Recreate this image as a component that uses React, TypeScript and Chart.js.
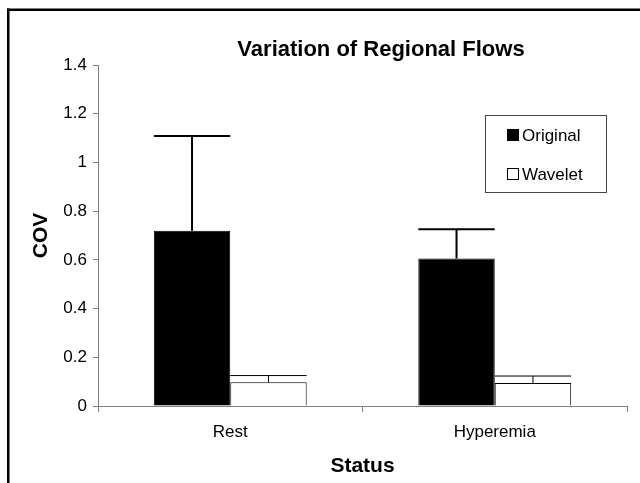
import React, { useEffect, useRef } from "react";
import { Chart, registerables } from "chart.js";

Chart.register(...registerables);

const categories = ["Rest", "Hyperemia"];
const seriesNames = ["Original", "Wavelet"];
const originalValues = [0.72, 0.606];
const originalErrors = [0.388, 0.12];
const waveletValues = [0.097, 0.094];
const waveletErrors = [0.028, 0.029];
const yTicks = [0, 0.2, 0.4, 0.6, 0.8, 1, 1.2, 1.4];
const titleText = "Variation of Regional Flows";
const yTitle = "COV";
const xTitle = "Status";

const FONT = "'Liberation Sans', Arial, sans-serif";

const errorBarPlugin = {
  id: "errorBars",
  afterDatasetsDraw(chart: any) {
    const ctx = chart.ctx;
    const yScale = chart.scales.y;
    chart.data.datasets.forEach((ds: any, i: number) => {
      const meta = chart.getDatasetMeta(i);
      const errs: number[] = ds.errors || [];
      meta.data.forEach((bar: any, j: number) => {
        const v = ds.data[j] + errs[j];
        const yTop = yScale.getPixelForValue(v);
        const half = bar.width / 2;
        ctx.save();
        ctx.strokeStyle = "#000";
        ctx.lineWidth = ds.errorLineWidth || 1;
        ctx.beginPath();
        ctx.moveTo(bar.x, bar.y);
        ctx.lineTo(bar.x, yTop);
        ctx.moveTo(bar.x - half, yTop);
        ctx.lineTo(bar.x + half, yTop);
        ctx.stroke();
        ctx.restore();
      });
    });
  },
};

const decorPlugin = {
  id: "decor",
  beforeDraw(chart: any) {
    const ctx = chart.ctx;
    ctx.save();
    ctx.fillStyle = "#fff";
    ctx.fillRect(0, 0, chart.width, chart.height);
    ctx.fillStyle = "#000";
    ctx.fillRect(7, 8.5, chart.width - 7, 2.5);
    ctx.fillRect(7, 8.5, 2.5, chart.height);
    ctx.restore();
  },
  afterDraw(chart: any) {
    const ctx = chart.ctx;
    ctx.save();
    // title
    ctx.fillStyle = "#000";
    ctx.font = `bold 22px ${FONT}`;
    ctx.textAlign = "center";
    ctx.textBaseline = "middle";
    ctx.fillText(titleText, 381, 50);
    // legend
    const bx = 485, by = 115, bw = 121, bh = 77;
    ctx.strokeStyle = "#444";
    ctx.lineWidth = 1;
    ctx.strokeRect(bx + 0.5, by + 0.5, bw, bh);
    ctx.font = `17px ${FONT}`;
    ctx.textAlign = "left";
    const rows = [135, 174];
    chart.data.datasets.forEach((ds: any, i: number) => {
      const cy = rows[i];
      if (ds.backgroundColor === "#000") {
        ctx.fillStyle = "#000";
        ctx.fillRect(507, cy - 6, 12, 12);
      } else {
        ctx.strokeStyle = "#000";
        ctx.strokeRect(507.5, cy - 5.5, 11, 11);
      }
      ctx.fillStyle = "#000";
      ctx.fillText(ds.label, 522, cy + 1);
    });
    ctx.restore();
  },
};

export default function App() {
  const ref = useRef<HTMLCanvasElement | null>(null);
  useEffect(() => {
    if (!ref.current) return;
    const chart = new Chart(ref.current, {
      type: "bar",
      data: {
        labels: categories,
        datasets: [
          {
            label: seriesNames[0],
            data: originalValues,
            errors: originalErrors,
            errorLineWidth: 2,
            backgroundColor: "#000",
            borderColor: "#000",
            borderWidth: 1,
            categoryPercentage: 0.578,
            barPercentage: 1,
          } as any,
          {
            label: seriesNames[1],
            data: waveletValues,
            errors: waveletErrors,
            errorLineWidth: 1,
            backgroundColor: "#fff",
            borderColor: "#000",
            borderWidth: 1,
            categoryPercentage: 0.578,
            barPercentage: 1,
          } as any,
        ],
      },
      options: {
        responsive: false,
        animation: false,
        devicePixelRatio: 1,
        layout: { padding: { left: 0, right: 13, top: 65, bottom: 0 } },
        plugins: {
          legend: { display: false },
          title: { display: false },
          tooltip: { enabled: false },
        },
        scales: {
          x: {
            afterFit: (s: any) => {
              s.height = 77;
            },
            grid: {
              offset: true,
              drawOnChartArea: false,
              drawTicks: true,
              tickLength: 6,
              color: "#808080",
            },
            border: { color: "#808080", width: 1 },
            ticks: {
              color: "#000",
              font: { family: FONT, size: 17 },
              padding: 10,
            },
            title: {
              display: true,
              text: xTitle,
              color: "#000",
              font: { family: FONT, size: 21, weight: "bold" },
              padding: { top: 5, bottom: 4 },
            },
          },
          y: {
            min: 0,
            max: 1.4,
            afterFit: (s: any) => {
              s.width = 98;
            },
            afterBuildTicks: (s: any) => {
              s.ticks = yTicks.map((v) => ({ value: v }));
            },
            grid: {
              drawOnChartArea: false,
              drawTicks: true,
              tickLength: 5,
              color: "#808080",
            },
            border: { color: "#808080", width: 1 },
            ticks: {
              color: "#000",
              font: { family: FONT, size: 17 },
              padding: 6,
              callback: (v: any) => String(v),
            },
            title: {
              display: true,
              text: yTitle,
              color: "#000",
              font: { family: FONT, size: 21, weight: "bold" },
              padding: { top: 29, bottom: 4 },
            },
          },
        },
      },
      plugins: [decorPlugin, errorBarPlugin],
    } as any);
    return () => chart.destroy();
  }, []);
  return (
    <div style={{ position: "absolute", left: 0, top: 0, width: 640, height: 483 }}>
      <canvas ref={ref} width={640} height={483} style={{ display: "block" }} />
    </div>
  );
}
